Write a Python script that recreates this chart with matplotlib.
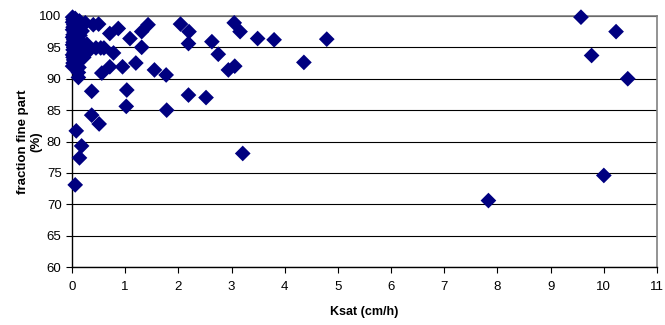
import matplotlib.pyplot as plt

# Ksat (cm/h) vs fraction fine part (%)
ksat = [
    0.01, 0.02, 0.01, 0.03, 0.02, 0.01, 0.04, 0.02, 0.01, 0.03,
    0.02, 0.01, 0.03, 0.02, 0.04, 0.01, 0.02, 0.03, 0.02, 0.01,
    0.06, 0.08, 0.07, 0.09, 0.06, 0.10, 0.08, 0.07, 0.11, 0.09,
    0.12, 0.10, 0.13, 0.12, 0.14, 0.16, 0.15, 0.18, 0.20, 0.22,
    0.25, 0.19, 0.28, 0.30, 0.12,
    0.40, 0.50, 0.54, 0.71, 0.87, 1.09, 1.31, 1.43, 1.31,
    0.45, 0.60, 0.78, 0.56, 0.71, 0.95, 1.20, 1.03, 1.02,
    1.55, 1.77, 1.78, 0.37, 0.37, 0.51,
    0.08, 0.18, 0.14, 0.06,
    2.04, 2.20, 2.19, 2.19, 2.52, 2.63, 2.75, 2.94, 3.06, 3.05,
    3.16, 3.49, 3.80, 4.79, 4.36, 3.21,
    7.83, 9.57, 9.77, 10.00, 10.23, 10.45,
]
fine = [
    99.8, 99.4, 99.0, 98.6, 98.2, 97.8, 97.4, 97.0, 96.6, 96.2,
    95.8, 95.4, 95.0, 94.6, 94.2, 93.8, 93.4, 93.0, 92.5, 92.0,
    99.6, 99.0, 98.4, 97.8, 97.1, 96.5, 95.9, 95.2, 94.6, 94.0,
    93.3, 92.6, 91.8, 91.0, 99.2, 98.5, 96.9, 95.7, 94.4, 93.4,
    98.9, 97.6, 95.5, 94.3, 90.2,
    98.6, 98.7, 94.9, 97.2, 98.0, 96.4, 97.5, 98.6, 95.0,
    94.9, 94.9, 94.1, 90.9, 91.9, 91.9, 92.5, 88.2, 85.6,
    91.4, 90.6, 85.0, 88.0, 84.2, 82.8,
    81.7, 79.3, 77.4, 73.1,
    98.7, 97.5, 95.6, 87.4, 87.0, 95.9, 93.9, 91.4, 92.0, 98.9,
    97.5, 96.4, 96.2, 96.3, 92.6, 78.1,
    70.6, 99.8, 93.7, 74.6, 97.5, 90.0,
]

plt.rcParams['font.family'] = ['Liberation Sans', 'DejaVu Sans']

fig = plt.figure(figsize=(6.65, 3.25), dpi=100)
ax = fig.add_axes([0.1083, 0.178, 0.8797, 0.773])

ax.scatter(ksat, fine, marker='D', s=64, color='#000080', edgecolors='none',
           zorder=3, clip_on=False)

ax.set_xlim(0, 11)
ax.set_ylim(60, 100)
ax.set_xticks(range(0, 12))
ax.set_yticks(range(60, 101, 5))
ax.yaxis.grid(True, color='black', linewidth=0.8)
ax.set_axisbelow(True)

for side in ('top', 'right'):
    ax.spines[side].set_color('#808080')
    ax.spines[side].set_linewidth(1.2)
for side in ('left', 'bottom'):
    ax.spines[side].set_color('black')
    ax.spines[side].set_linewidth(1.0)

ax.tick_params(axis='both', direction='out', length=4, width=0.8,
               labelsize=9.5, colors='black')
ax.tick_params(axis='x', pad=6)

ax.set_xlabel('Ksat (cm/h)', fontsize=9, fontweight='bold', labelpad=9)
ax.set_ylabel('fraction fine part\n(%)', fontsize=9.5, fontweight='bold',
              linespacing=1.15)
ax.yaxis.set_label_coords(-0.05, 0.5)

fig.savefig('out.png', dpi=100)
